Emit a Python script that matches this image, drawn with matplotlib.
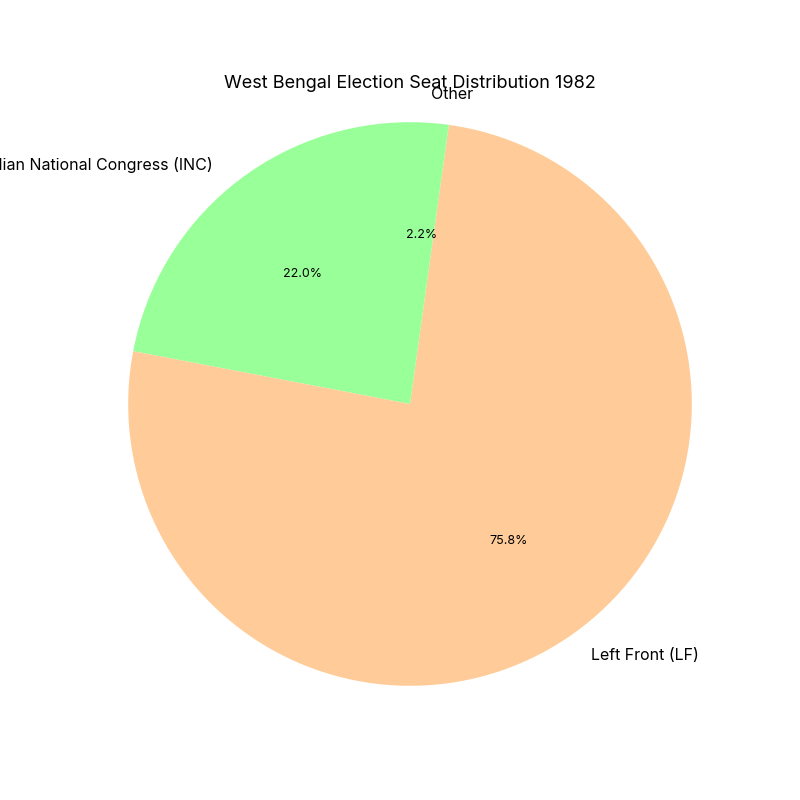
import matplotlib
matplotlib.use('Agg')
import matplotlib.pyplot as plt

plt.rcParams['font.family'] = ['Inter', 'DejaVu Sans']

# seat shares, West Bengal 1982
parties = ['Indian National Congress (INC)', 'Left Front (LF)', 'Other']
shares = [22.0, 75.8, 2.2]
colors = ['#99ff99', '#ffcc99']

fig = plt.figure(figsize=(8, 8), dpi=100)
ax = fig.add_subplot(111)
wedges, texts, autotexts = ax.pie(shares, labels=parties, colors=colors,
                                  autopct='%1.1f%%', startangle=90)
for t in texts:
    t.set_fontsize(11.5)
for t in autotexts:
    t.set_fontsize(9)
ax.axis('equal')
ax.set_title('West Bengal Election Seat Distribution 1982', fontsize=13)
plt.savefig('out.png', dpi=100)
